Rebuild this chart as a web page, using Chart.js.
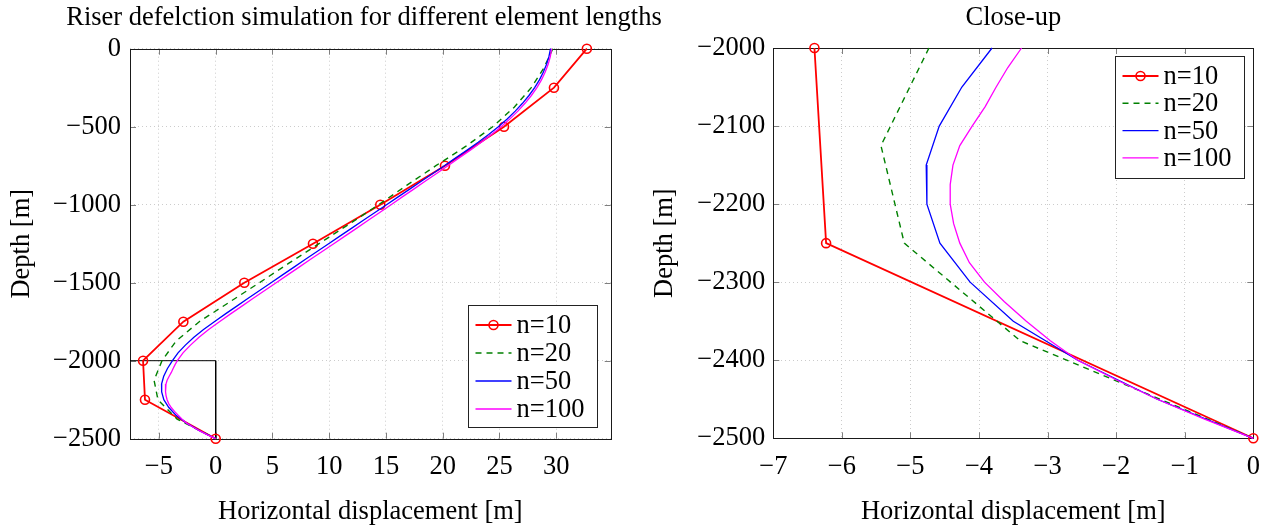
<!DOCTYPE html>
<html>
<head>
<meta charset="utf-8">
<script src="https://cdn.jsdelivr.net/npm/chart.js@4.4.1/dist/chart.umd.min.js"></script>
<style>
html,body{margin:0;padding:0;background:#fff;}
#wrap{position:relative;width:1277px;height:529px;overflow:hidden;background:#fff;}
#c1{position:absolute;left:0;top:0;}
#c2{position:absolute;left:640px;top:0;}
</style>
</head>
<body>
<div id="wrap">
<canvas id="c1" width="727" height="529"></canvas>
<canvas id="c2" width="637" height="529"></canvas>
</div>
<script>
// ---------------- data ----------------
const depth10 = [0,-250,-500,-750,-1000,-1250,-1500,-1750,-2000,-2250,-2500];
const disp10  = [32.7,29.8,25.4,20.2,14.5,8.57,2.52,-2.85,-6.4,-6.23,0];

const depth20 = [0,-125,-250,-375,-500,-625,-750,-875,-1000,-1125,-1250,-1375,-1500,-1625,-1750,-1875,-2000,-2125,-2250,-2375,-2500];
const disp20  = [29.7,28.9,27.8,26.3,24.4,22.05,19.4,16.85,14.35,11.75,9.1,6.45,3.85,1.2,-1.45,-3.5,-4.73,-5.43,-5.09,-3.4,0];

const depth50 = [0,-50,-100,-150,-200,-250,-300,-350,-400,-450,-500,-550,-600,-650,-700,-750,-800,-850,-900,-950,-1000,-1050,-1100,-1150,-1200,-1250,-1300,-1350,-1400,-1450,-1500,-1550,-1600,-1650,-1700,-1750,-1800,-1850,-1900,-1950,-2000,-2050,-2100,-2150,-2200,-2250,-2300,-2350,-2400,-2450,-2500];
const disp50  = [29.5,29.36,29.15,28.87,28.52,28.1,27.6,27.03,26.39,25.68,24.9,24.05,23.13,22.15,21.15,20.15,19.13,18.11,17.09,16.07,15.05,14.03,13.01,11.99,10.97,9.95,8.93,7.91,6.9,5.89,4.88,3.87,2.86,1.86,0.86,-0.12,-1.07,-1.92,-2.67,-3.32,-3.81,-4.25,-4.58,-4.77,-4.76,-4.57,-4.13,-3.5,-2.56,-1.4,0];

const depth100 = [0,-50,-100,-150,-200,-250,-300,-350,-400,-450,-500,-550,-600,-650,-700,-750,-800,-850,-900,-950,-1000,-1050,-1100,-1150,-1200,-1250,-1300,-1350,-1400,-1450,-1500,-1550,-1600,-1650,-1700,-1750,-1800,-1850,-1900,-1950,-2000,-2025,-2050,-2075,-2100,-2125,-2150,-2175,-2200,-2225,-2250,-2275,-2300,-2325,-2350,-2375,-2400,-2425,-2450,-2475,-2500];
const disp100  = [29.6,29.48,29.29,29.03,28.7,28.3,27.81,27.25,26.62,25.92,25.15,24.31,23.4,22.43,21.44,20.46,19.46,18.45,17.45,16.44,15.45,14.45,13.44,12.43,11.42,10.4,9.38,8.36,7.35,6.34,5.33,4.32,3.31,2.31,1.31,0.33,-0.62,-1.47,-2.22,-2.88,-3.38,-3.58,-3.75,-3.91,-4.1,-4.28,-4.38,-4.42,-4.42,-4.37,-4.28,-4.14,-3.92,-3.63,-3.31,-2.96,-2.56,-2.0,-1.4,-0.72,0];

// close-up window marked on the overview plot
const boxX = [-7.55, 0, 0];
const boxY = [-2000, -2000, -2500];

// ticks
const xTicksLeft  = [-5,0,5,10,15,20,25,30];
const yTicksLeft  = [0,-500,-1000,-1500,-2000,-2500];
const xTicksRight = [-7,-6,-5,-4,-3,-2,-1,0];
const yTicksRight = [-2000,-2100,-2200,-2300,-2400,-2500];

const titleLeft  = 'Riser defelction simulation for different element lengths';
const titleRight = 'Close-up';
const xLabel = 'Horizontal displacement [m]';
const yLabel = 'Depth [m]';

// ---------------- helpers ----------------
const SERIF = "'Liberation Serif', 'Times New Roman', serif";
const FS = 26.5;
const fmt = v => (v < 0 ? '\u2212' + Math.abs(v) : String(v));

function pts(ys, xs, keep) {
  const out = [];
  for (let i = 0; i < ys.length; i++) {
    if (!keep || keep(ys[i])) out.push({x: xs[i], y: ys[i]});
  }
  return out;
}

function seriesDatasets(keep) {
  const base = {showLine: true, clip: false, fill: false, tension: 0, pointRadius: 0, pointHoverRadius: 0, pointHitRadius: 0};
  return [
    Object.assign({}, base, {label: 'n=10', data: pts(depth10, disp10, keep), borderColor: '#ff0000', borderWidth: 1.8,
      pointRadius: 4.5, pointBorderWidth: 1.6, pointBorderColor: '#ff0000', pointBackgroundColor: 'rgba(0,0,0,0)', pointStyle: 'circle', order: 3}),
    Object.assign({}, base, {label: 'n=20', data: pts(depth20, disp20, keep), borderColor: '#008000', borderWidth: 1.4, borderDash: [6, 5], order: 2}),
    Object.assign({}, base, {label: 'n=50', data: pts(depth50, disp50, keep), borderColor: '#0000ff', borderWidth: 1.3, order: 1}),
    Object.assign({}, base, {label: 'n=100', data: pts(depth100, disp100, keep), borderColor: '#ff00ff', borderWidth: 1.3, order: 0})
  ];
}

const decor = {
  id: 'decor',
  beforeDatasetsDraw(chart, args, opts) {
    const {ctx, chartArea: a, scales: {x, y}} = chart;
    ctx.save();
    if (opts.title) {
      ctx.fillStyle = '#000';
      ctx.font = FS + 'px ' + SERIF;
      ctx.textAlign = 'center';
      ctx.textBaseline = 'middle';
      ctx.fillText(opts.title.text, opts.title.x, opts.title.y);
    }
    ctx.strokeStyle = '#7f7f7f';
    ctx.lineWidth = 1;
    ctx.beginPath();
    for (const t of x.ticks) {
      const p = Math.round(x.getPixelForValue(t.value)) + 0.5;
      ctx.moveTo(p, a.bottom); ctx.lineTo(p, a.bottom - 6);
      ctx.moveTo(p, a.top); ctx.lineTo(p, a.top + 6);
    }
    for (const t of y.ticks) {
      const p = Math.round(y.getPixelForValue(t.value)) + 0.5;
      ctx.moveTo(a.left, p); ctx.lineTo(a.left + 6, p);
      ctx.moveTo(a.right, p); ctx.lineTo(a.right - 6, p);
    }
    ctx.stroke();
    ctx.strokeStyle = '#1a1a1a';
    ctx.strokeRect(Math.round(a.left) + 0.5, Math.round(a.top) + 0.5, Math.round(a.right - a.left), Math.round(a.bottom - a.top));
    ctx.restore();
  },
  afterDatasetsDraw(chart, args, opts) {
    const lg = opts.legend;
    if (!lg) return;
    const {ctx, chartArea: a} = chart;
    const w = 129, h = 122;
    const bx = Math.round(a.right - lg.dx - w) + 0.5;
    const by = Math.round(lg.fromTop ? a.top + lg.dy : a.bottom - lg.dy - h) + 0.5;
    ctx.save();
    ctx.fillStyle = '#fff';
    ctx.fillRect(bx, by, w, h);
    ctx.strokeStyle = '#222';
    ctx.lineWidth = 1;
    ctx.strokeRect(bx, by, w, h);
    const items = chart.data.datasets.filter(d => d.label && d.label.startsWith('n='));
    items.forEach((d, i) => {
      const cy = by + 19.5 + i * lg.step;
      ctx.save();
      ctx.strokeStyle = d.borderColor;
      ctx.lineWidth = d.borderWidth;
      ctx.setLineDash(d.borderDash || []);
      ctx.beginPath();
      ctx.moveTo(bx + 7, cy); ctx.lineTo(bx + 43, cy);
      ctx.stroke();
      ctx.setLineDash([]);
      if (d.pointRadius > 0) {
        ctx.lineWidth = d.pointBorderWidth;
        ctx.beginPath();
        ctx.arc(bx + 25, cy, d.pointRadius, 0, Math.PI * 2);
        ctx.stroke();
      }
      ctx.restore();
      ctx.fillStyle = '#000';
      ctx.font = FS + 'px ' + SERIF;
      ctx.textBaseline = 'middle';
      ctx.textAlign = 'left';
      ctx.fillText(d.label, bx + 48, cy + 1);
    });
    ctx.restore();
  }
};

function axisOpts(ticksArr, min, max, isY, fitSize, tickPad, titleText, titlePad) {
  return {
    type: 'linear', min: min, max: max,
    afterBuildTicks: s => { s.ticks = ticksArr.map(v => ({value: v})); },
    afterFit: s => { if (isY) s.width = fitSize; else s.height = fitSize; },
    grid: {color: '#cccccc', lineWidth: 1, drawTicks: false},
    border: {display: false, dash: [1, 3]},
    ticks: {padding: tickPad, color: '#000', font: {family: SERIF, size: FS}, callback: v => fmt(v), maxRotation: 0, autoSkip: false},
    title: {display: true, text: titleText, color: '#000', font: {family: SERIF, size: FS}, padding: titlePad}
  };
}

// ---------------- left chart ----------------
const leftSets = seriesDatasets(null);
leftSets.push({label: 'box', data: pts(boxY, boxX, null), showLine: true, clip: false, borderColor: '#000', borderWidth: 1,
  pointRadius: 0, pointHoverRadius: 0, order: 5});

new Chart(document.getElementById('c1'), {
  type: 'scatter',
  data: {datasets: leftSets},
  options: {
    responsive: false, animation: false, events: [],
    layout: {padding: {left: 0, right: 116.3, top: 48.7, bottom: 0}},
    scales: {
      x: axisOpts(xTicksLeft, -7.55, 34.8, false, 90.3, 12.4, xLabel, {top: 0, bottom: 1.1}),
      y: axisOpts(yTicksLeft, -2500, 0, true, 130, 9, yLabel, {top: 6.1, bottom: 0})
    },
    plugins: {
      legend: {display: false},
      tooltip: {enabled: false},
      title: {display: false},
      decor: {legend: {dx: 14, dy: 12, step: 28, fromTop: false},
              title: {text: titleLeft, x: 364, y: 18}}
    }
  },
  plugins: [decor]
});

// ---------------- right chart (close-up) ----------------
const keepClose = d => d <= -2000;
new Chart(document.getElementById('c2'), {
  type: 'scatter',
  data: {datasets: seriesDatasets(keepClose)},
  options: {
    responsive: false, animation: false, events: [],
    layout: {padding: {left: 0, right: 23.7, top: 0, bottom: 0}},
    scales: {
      x: axisOpts(xTicksRight, -7, 0, false, 90.7, 12.4, xLabel, {top: 0, bottom: 1.1}),
      y: axisOpts(yTicksRight, -2500, -2000, true, 133.3, 8, yLabel, {top: 9.1, bottom: 0})
    },
    plugins: {
      legend: {display: false},
      tooltip: {enabled: false},
      title: {display: true, text: titleRight, color: '#000', fullSize: false,
        font: {family: SERIF, size: FS, weight: 'normal'}, padding: {top: 2, bottom: 14.2}},
      decor: {legend: {dx: 9, dy: 8, step: 27.3, fromTop: true}}
    }
  },
  plugins: [decor]
});
</script>
</body>
</html>
